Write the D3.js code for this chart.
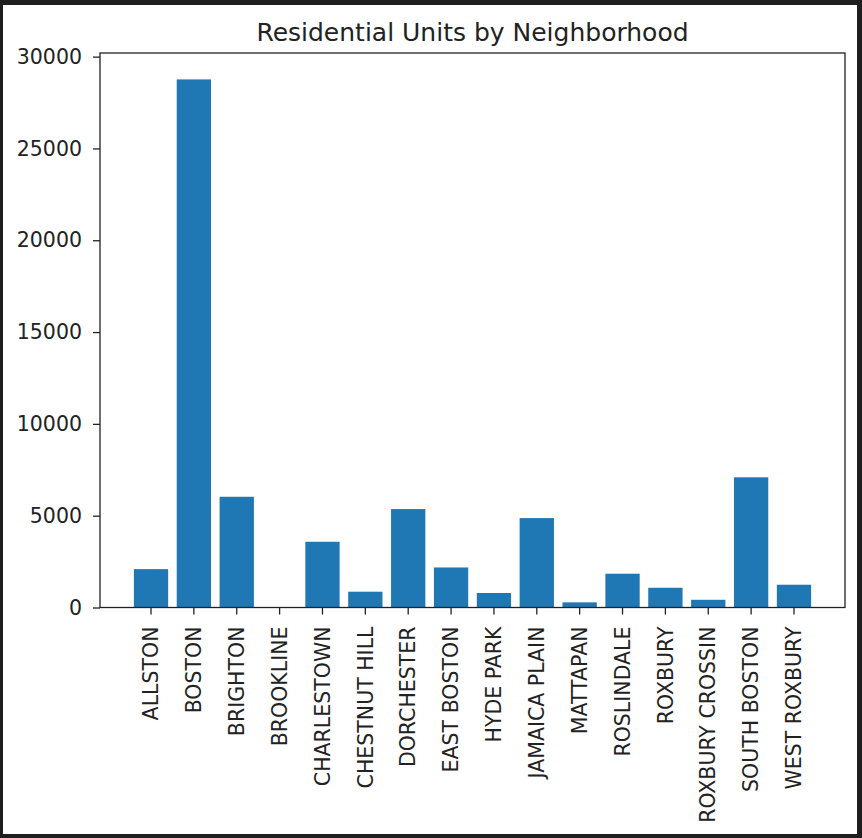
<!DOCTYPE html>
<html>
<head>
<meta charset="utf-8">
<script src="https://cdn.jsdelivr.net/npm/d3@7"></script>
<style>
  html, body { margin: 0; padding: 0; background: #1e1e1e; }
  svg { display: block; }
  text { font-family: "DejaVu Sans", sans-serif; fill: #222; }
</style>
</head>
<body>
<svg id="chart" width="862" height="838"></svg>
<script>
const neighborhoods = ["ALLSTON", "BOSTON", "BRIGHTON", "BROOKLINE", "CHARLESTOWN", "CHESTNUT HILL",
  "DORCHESTER", "EAST BOSTON", "HYDE PARK", "JAMAICA PLAIN", "MATTAPAN", "ROSLINDALE",
  "ROXBURY", "ROXBURY CROSSIN", "SOUTH BOSTON", "WEST ROXBURY"];
const units = [2090, 28760, 6030, 5, 3580, 860, 5360, 2180, 790, 4870, 280, 1840, 1075, 420, 7090, 1240];
const yTicks = [0, 5000, 10000, 15000, 20000, 25000, 30000];
const title = "Residential Units by Neighborhood";

const svg = d3.select("#chart");
// dark frame + white canvas
svg.append("rect").attr("x", 0).attr("y", 0).attr("width", 862).attr("height", 838).attr("fill", "#1e1e1e");
svg.append("rect").attr("x", 3).attr("y", 5).attr("width", 854).attr("height", 829).attr("fill", "#ffffff");

const mLeft = 100, mRight = 845, mTop = 53, mBottom = 607.5;

const x = d3.scaleBand().domain(neighborhoods).range([mLeft, mRight])
  .paddingInner(0.2).paddingOuter(0.79).align(0.5);
const yMax = d3.max(units) * 1.05;
const y = d3.scaleLinear().domain([0, yMax]).range([mBottom, mTop]);

// bars
svg.append("g").selectAll("rect").data(neighborhoods).join("rect")
  .attr("x", d => x(d))
  .attr("width", x.bandwidth())
  .attr("y", (d, i) => y(units[i]))
  .attr("height", (d, i) => mBottom - y(units[i]))
  .attr("fill", "#1f77b4");

// axes
const yAxis = d3.axisLeft(y).tickValues(yTicks).tickSize(7).tickPadding(11).tickFormat(d3.format("d"));
const gy = svg.append("g").attr("transform", `translate(${mLeft},0)`).call(yAxis);
gy.select(".domain").remove();
gy.selectAll("line").attr("stroke", "#222").attr("stroke-width", 1.3);
gy.selectAll("text").attr("font-size", "20.5px").attr("font-family", "DejaVu Sans").attr("fill", "#222");

const xAxis = d3.axisBottom(x).tickSize(7).tickPadding(6);
const gx = svg.append("g").attr("transform", `translate(0,${mBottom})`).call(xAxis);
gx.select(".domain").remove();
gx.selectAll("line").attr("stroke", "#222").attr("stroke-width", 1.3);
gx.selectAll("text")
  .attr("font-size", "20.5px").attr("font-family", "DejaVu Sans").attr("fill", "#222")
  .attr("transform", "rotate(-90)")
  .attr("x", -19).attr("y", 0).attr("dy", "0.35em")
  .attr("text-anchor", "end");

// frame (spines)
svg.append("rect").attr("x", mLeft).attr("y", mTop).attr("width", mRight - mLeft).attr("height", mBottom - mTop)
  .attr("fill", "none").attr("stroke", "#222").attr("stroke-width", 1.3);

// title
svg.append("text").attr("x", (mLeft + mRight) / 2).attr("y", 41)
  .attr("text-anchor", "middle").attr("font-size", "25px").text(title);
</script>
</body>
</html>
